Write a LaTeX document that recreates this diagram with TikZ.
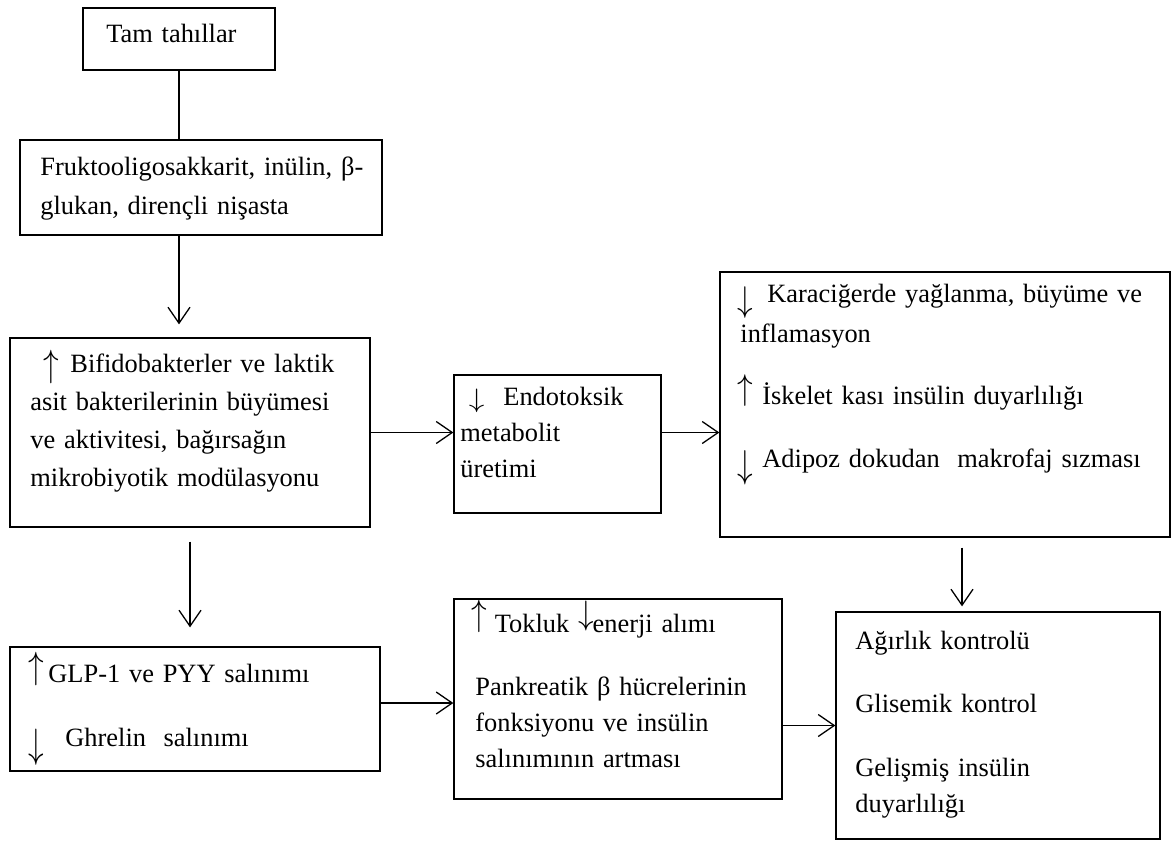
\documentclass[tikz,border=0pt]{standalone}
\usepackage{graphicx}
\usepackage{fontspec}
\setmainfont{Liberation Serif}
\usetikzlibrary{arrows.meta}
% tall thin arrows inside the texts: #1 stretch, #2 raise
\newcommand{\arrup}[2]{\raisebox{#2}[0pt][0pt]{\scalebox{1.3}[#1]{$\uparrow$}}}
\newcommand{\arrdn}[2]{\raisebox{#2}[0pt][0pt]{\scalebox{1.3}[#1]{$\downarrow$}}}
\tikzset{
  box/.style = {draw, line width=0.65pt, inner sep=0pt},
  txt/.style = {anchor=base west, inner sep=0pt, align=left, text width=#1,
                font=\fontsize{13.2}{18}\selectfont},
  txt/.default = 200pt,
  flow/.style = {-{Straight Barb[length=8pt,width=11pt]}, line width=0.65pt},
}
\begin{document}
\begin{tikzpicture}[x=0.5pt, y=-0.5pt]
\useasboundingbox (0,0) rectangle (1172,841);
% boxes
\node [box, minimum width=96pt, minimum height=31pt] (tam) at (179,39) {};
\node [box, minimum width=181pt, minimum height=47.5pt] (fos) at (201,187.5) {};
\node [box, minimum width=180pt, minimum height=94.5pt] (bif) at (190,432.5) {};
\node [box, minimum width=103.5pt, minimum height=69pt] (endo) at (557.5,444) {};
\node [box, minimum width=225pt, minimum height=132.5pt] (kar) at (945,404.5) {};
\node [box, minimum width=185pt, minimum height=62pt] (glp) at (195,709) {};
\node [box, minimum width=164pt, minimum height=100pt] (tok) at (618,699) {};
\node [box, minimum width=162pt, minimum height=113.5pt] (agr) at (998,725.5) {};
% texts
\node [txt=90pt] (tamT) at (106,42) {Tam tahıllar};
\node [txt=175pt] (fosT) at (40,175) {Fruktooligosakkarit, inülin, β-\\[1.5pt]glukan, dirençli nişasta};
\node [txt=175pt, font=\fontsize{13.2}{19}\selectfont] (bifT) at (30,372)
  {\hspace{6.75pt}\makebox[13.25pt][l]{\arrup{1.58}{-2.46pt}}Bifidobakterler ve laktik\\asit bakterilerinin büyümesi\\ve aktivitesi, bağırsağın\\mikrobiyotik modülasyonu};
\node [txt=100pt] (endoT) at (460,405)
  {\hspace{4.25pt}\makebox[17.25pt][l]{\arrdn{1.11}{-1.16pt}}Endotoksik\\metabolit\\üretimi};
\node [txt=215pt] (karT) at (740,302)
  {\hspace{-1.5pt}\makebox[15pt][l]{\arrdn{1.49}{-4.92pt}}Karaciğerde yağlanma, büyüme ve\\[2pt]inflamasyon\\[13pt]%
   \hspace*{-1.5pt}\makebox[12.5pt][l]{\arrup{1.49}{2.33pt}}İskelet kası insülin duyarlılığı\\[13.5pt]%
   \hspace*{-1.5pt}\makebox[12.5pt][l]{\arrdn{1.62}{-5.35pt}}Adipoz dokudan\ \ makrofaj sızması};
\node [txt=180pt] (glpT) at (28,682)
  {\hspace{0pt}\makebox[10pt][l]{\arrup{1.58}{1.54pt}}GLP-1 ve PYY salınımı\\[14pt]%
   \hspace*{0.25pt}\makebox[18.25pt][l]{\arrdn{1.71}{-5.64pt}}Ghrelin\ \ salınımı};
\node [txt=160pt] (tokT) at (475,632)
  {\hspace{-1.75pt}\makebox[11.5pt][l]{\arrup{1.54}{3.42pt}}Tokluk \makebox[7.25pt][l]{\arrdn{1.41}{3.6pt}}enerji alımı\\[13.5pt]%
   Pankreatik β hücrelerinin\\fonksiyonu ve insülin\\salınımının artması};
\node [txt=150pt] (agrT) at (855,649) {Ağırlık kontrolü\\[13.5pt]Glisemik kontrol\\[14pt]Gelişmiş insülin\\duyarlılığı};
% connectors
\draw [line width=0.65pt] (tam.south) -- (fos.north -| tam.south);
\draw [flow, shorten >=6.5pt] (fos.south -| tam.south) -- (bif.north -| tam.south);
\draw [flow] (bif.east) -- (bif.east -| endo.west);
\draw [flow] (endo.east |- bif.east) -- (kar.west |- bif.east);
\draw [flow, shorten <=5pt, shorten >=2.5pt] ([xshift=8.5pt]kar.south) -- ([xshift=8.5pt]kar.south |- agr.north);
\draw [flow, shorten <=7pt, shorten >=9.5pt] (bif.south) -- (bif.south |- glp.north);
\draw [flow] ([yshift=3pt]glp.east) -- ([yshift=3pt]glp.east -| tok.west);
\draw [flow] (agr.west -| tok.east) -- (agr.west);
\end{tikzpicture}
\end{document}
